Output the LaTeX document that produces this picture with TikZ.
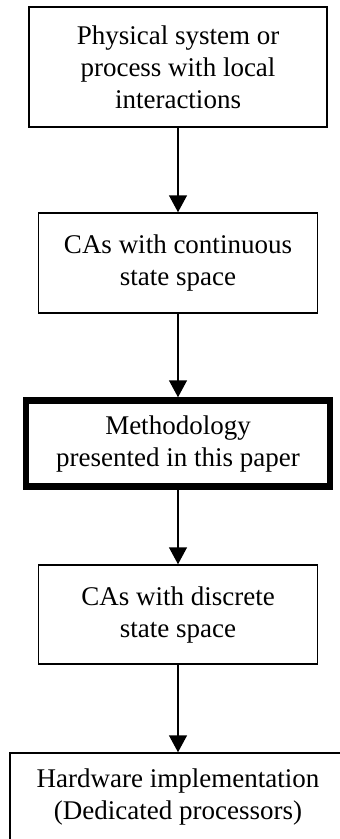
\documentclass[tikz,border=0pt]{standalone}
\usepackage{fontspec}
\setmainfont{Liberation Serif}
\usetikzlibrary{arrows.meta,positioning}
\tikzset{% 
  stage box/.style={%
    draw,
    line width=1.5pt,
    inner sep=0pt,
    align=center,
    font=\fontsize{27}{32}\selectfont
  },
  key stage/.style={%
    stage box,
    line width=6.5pt
  },
  flow directed/.style={%
    line width=1.5pt,
    -{Triangle[width=18pt,length=17pt]}
  }
}

\begin{document}
\begin{tikzpicture}[x=1pt,y=-1pt]
  \clip (0,0) rectangle (340,839);
  \node [stage box, minimum width=298pt, minimum height=120pt] (phys) at (178, 67) {Physical system or\\process with local\\interactions};
  \node [stage box, minimum width=279pt, minimum height=100pt] (cont) at (178, 263) {CAs with continuous\\state space};
  \node [key stage, minimum width=304pt, minimum height=86pt] (meth) at (178, 443.5) {Methodology\\presented in this paper};
  \node [stage box, minimum width=279pt, minimum height=99pt] (disc) at (178, 614.5) {CAs with discrete\\state space};
  \node [stage box, minimum width=336pt, minimum height=88pt] (hard) at (178, 797) {Hardware implementation\\(Dedicated processors)};
  \draw [flow directed] (phys.south) -- (cont.north);
  \draw [flow directed] (cont.south) -- (meth.north);
  \draw [flow directed] (meth.south) -- (disc.north);
  \draw [flow directed] (disc.south) -- (hard.north);
\end{tikzpicture}
\end{document}
